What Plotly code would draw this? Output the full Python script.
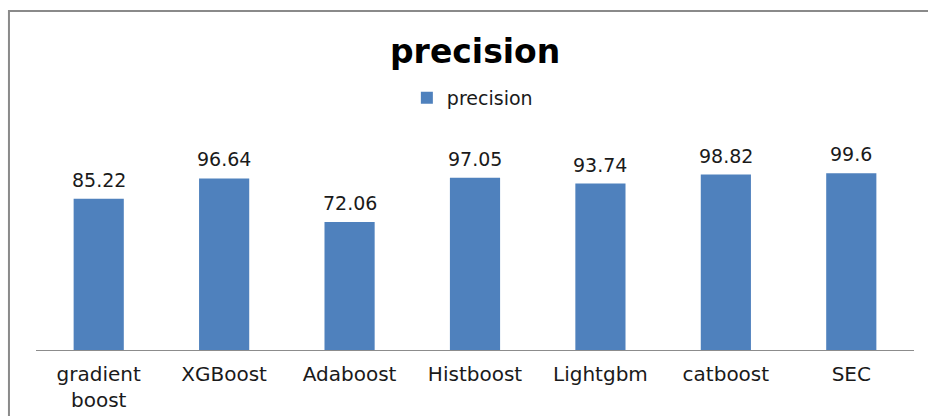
import plotly.graph_objects as go

# Precision score (%) for each model
models = ["gradient<br>boost", "XGBoost", "Adaboost", "Histboost", "Lightgbm", "catboost", "SEC"]
precision = [85.22, 96.64, 72.06, 97.05, 93.74, 98.82, 99.6]
value_labels = ["85.22", "96.64", "72.06", "97.05", "93.74", "98.82", "99.6"]

FONT = "DejaVu Sans"
BAR_COLOR = "#4f81bd"

fig = go.Figure()
fig.add_trace(go.Bar(
    x=models,
    y=precision,
    name="precision",
    width=0.4,
    marker=dict(color=BAR_COLOR, line=dict(width=0)),
))

# value labels above each bar
for m, v, t in zip(models, precision, value_labels):
    fig.add_annotation(
        x=m, y=v, text=t, showarrow=False,
        yanchor="bottom", yshift=6,
        font=dict(family=FONT, size=19, color="#1a1a1a"),
    )

# chart-area border
fig.add_shape(
    type="rect", xref="paper", yref="paper",
    x0=-0.0308, x1=1.2, y0=-0.5, y1=1.5915,
    line=dict(color="#8a8a8a", width=2), fillcolor="rgba(0,0,0,0)",
    layer="below",
)

fig.update_layout(
    width=928, height=416,
    margin=dict(l=36, r=14, t=137, b=66, autoexpand=False),
    paper_bgcolor="white",
    plot_bgcolor="white",
    font=dict(family=FONT, color="#1a1a1a"),
    title=dict(
        text="<b>precision</b>",
        x=0.512, xanchor="center",
        y=0.876, yanchor="middle", yref="container",
        font=dict(family=FONT, size=33, color="#000000"),
    ),
    showlegend=True,
    legend=dict(
        orientation="h", x=0.497, xanchor="center",
        y=1.183, yanchor="middle",
        font=dict(family=FONT, size=19, color="#1a1a1a"),
        bgcolor="rgba(0,0,0,0)",
    ),
    xaxis=dict(
        showline=True, linecolor="#8c8c8c", linewidth=1,
        ticks="", showgrid=False, ticklabelstandoff=6, automargin=False,
        tickfont=dict(family=FONT, size=20, color="#1a1a1a"),
    ),
    yaxis=dict(
        range=[0, 120], visible=False, showgrid=False, zeroline=False,
        automargin=False,
    ),
)

fig.write_html("out.html")
